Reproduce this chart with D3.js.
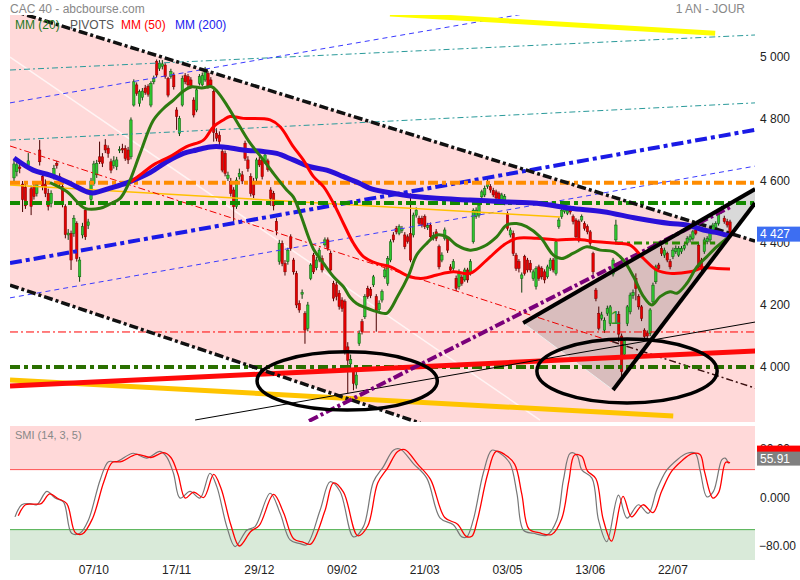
<!DOCTYPE html>
<meta charset="utf-8">
<style>
  body { margin: 0; background: #fff; }
  svg text { font-family: "Liberation Sans", Arial, sans-serif; }
</style>
<body>
<script src="https://d3js.org/d3.v7.min.js"></script>
<script>

// ---- data (bar index, price) ----
var tickBars = [28, 57, 86, 115, 144, 173, 202, 231];
var tickLabels = ["07/10", "17/11", "29/12", "09/02", "21/03", "03/05", "13/06", "22/07"];
var priceTicks = [4000, 4200, 4400, 4600, 4800, 5000];
var smiTicks = [80, 0, -80];
var smiLevels = [46, -53];
var lastPrice = 4427;
var lastSmi = 55.91;

var opens = [4610,4630,4645,4590,4580,4650,4575,4582,4560,4700, 4615,4590,4560,4528,4614,4657,4614,4582,4517,4426,
  4431,4431,4463,4291,4426,4506,4457,4540,4592,4620, 4678,4678,4716,4706,4662,4650,4646,4698,4705,4705,
  4700,4678,4845,4910,4850,4870,4900,4905,4845,4920, 4985,4963,4970,4974,4931,4937,4942,4829,4754,4845,
  4940,4937,4926,4861,4829,4915,4910,4926,4947,4926, 4888,4754,4748,4695,4689,4609,4598,4571,4517,4614,
  4620,4722,4668,4614,4598,4609,4668,4668,4662,4665, 4571,4560,4470,4340,4399,4334,4340,4420,4345,4302,
  4205,4235,4173,4125,4286,4361,4320,4345,4350,4394, 4410,4367,4270,4265,4238,4216,4211,4065,4010,3985,
  3942,4076,4146,4162,4254,4250,4265,4227,4185,4216, 4291,4270,4345,4426,4447,4431,4440,4426,4420,4431,
  4426,4490,4480,4480,4485,4450,4458,4415,4436,4388, 4345,4415,4415,4323,4318,4286,4259,4290,4281,4313,
  4302,4404,4485,4490,4549,4555,4582,4582,4570,4565, 4560,4540,4530,4495,4426,4431,4361,4340,4286,4356,
  4345,4335,4285,4259,4323,4318,4307,4291,4318,4345, 4302,4453,4485,4501,4496,4512,4485,4474,4469,4474,
  4463,4453,4436,4366,4248,4173,4157,4119,4173,4140, 4300,4410,4170,4100,4040,4140,4178,4230,4286,4227,
  4194,4119,4110,4108,4210,4275,4329,4383,4361,4367, 4340,4356,4372,4361,4372,4383,4400,4410,4415,4442,
  4393,4345,4372,4404,4410,4436,4442,4463,4501,4480, 4469,4468];
var highs = [4672,4668,4660,4600,4590,4690,4585,4598,4600,4732, 4630,4605,4575,4570,4652,4665,4625,4590,4525,4445,
  4440,4490,4470,4355,4465,4515,4478,4610,4665,4668, 4727,4690,4735,4715,4672,4680,4678,4712,4720,4715,
  4710,4805,4928,4918,4895,4900,4910,4912,4922,4940, 4992,4990,4990,4980,4936,4962,4950,4838,4810,4940,
  4948,4945,4935,4870,4900,4945,4950,4968,4955,4935, 4895,4770,4760,4705,4698,4630,4610,4580,4612,4640,
  4632,4730,4680,4625,4610,4675,4678,4678,4692,4672, 4580,4568,4480,4410,4408,4345,4385,4428,4352,4310,
  4215,4250,4180,4210,4335,4368,4355,4385,4360,4418, 4418,4375,4278,4275,4248,4225,4218,4080,4040,3995,
  3985,4118,4155,4235,4262,4258,4297,4235,4215,4250, 4320,4358,4412,4435,4455,4460,4455,4435,4428,4560,
  4498,4515,4488,4488,4492,4465,4466,4435,4445,4395, 4370,4450,4422,4332,4348,4295,4315,4298,4320,4320,
  4348,4512,4515,4530,4572,4585,4606,4590,4578,4572, 4566,4562,4558,4502,4450,4440,4368,4348,4305,4362,
  4352,4345,4315,4325,4330,4325,4315,4330,4352,4352, 4410,4482,4512,4520,4515,4520,4492,4480,4476,4492,
  4470,4460,4442,4372,4255,4195,4178,4160,4198,4200, 4352,4475,4180,4108,4092,4200,4240,4250,4302,4235,
  4200,4125,4118,4190,4272,4330,4336,4392,4385,4372, 4348,4385,4392,4390,4390,4400,4422,4428,4442,4450,
  4400,4352,4418,4422,4442,4465,4470,4502,4520,4488, 4478,4475];
var lows = [4598,4615,4625,4500,4510,4640,4490,4540,4550,4650, 4570,4548,4505,4515,4605,4640,4580,4515,4415,4410,
  4313,4420,4340,4275,4415,4410,4445,4530,4585,4610, 4655,4645,4690,4675,4625,4640,4635,4690,4690,4665,
  4655,4670,4840,4875,4840,4860,4878,4872,4838,4912, 4935,4955,4960,4930,4870,4930,4895,4765,4745,4840,
  4912,4903,4898,4805,4822,4908,4905,4920,4898,4903, 4727,4728,4715,4628,4615,4600,4550,4469,4510,4605,
  4590,4665,4630,4550,4545,4600,4645,4605,4655,4630, 4520,4505,4425,4330,4325,4295,4330,4375,4298,4190,
  4175,4220,4075,4115,4280,4300,4312,4338,4305,4388, 4375,4305,4212,4215,4185,4178,4040,3915,3990,3925,
  3930,4068,4105,4155,4220,4222,4258,4114,4175,4208, 4285,4262,4338,4402,4428,4425,4432,4380,4398,4338,
  4418,4482,4455,4450,4445,4442,4412,4408,4406,4315, 4338,4408,4368,4305,4310,4245,4250,4262,4275,4272,
  4295,4398,4478,4482,4540,4548,4575,4562,4548,4538, 4532,4532,4522,4440,4418,4358,4310,4305,4240,4295,
  4305,4305,4278,4250,4278,4282,4270,4285,4310,4305, 4295,4446,4478,4495,4490,4492,4460,4412,4402,4468,
  4440,4428,4390,4298,4212,4118,4150,4110,4165,4132, 4292,4402,4080,3955,4030,4132,4170,4220,4215,4185,
  4148,4090,4092,4100,4202,4268,4310,4358,4352,4338, 4315,4348,4365,4355,4365,4376,4392,4402,4408,4425,
  4315,4310,4365,4396,4402,4428,4435,4456,4495,4462, 4450,4420];
var closes = [4655,4652,4640,4540,4520,4665,4518,4550,4588,4662, 4582,4560,4518,4560,4640,4650,4592,4528,4427,4432,
  4345,4480,4350,4345,4453,4420,4468,4600,4655,4657, 4662,4657,4700,4689,4635,4665,4668,4702,4700,4673,
  4668,4797,4920,4883,4888,4890,4885,4880,4915,4931, 4942,4980,4978,4937,4877,4953,4904,4808,4802,4931,
  4920,4910,4904,4813,4894,4937,4940,4958,4904,4910, 4757,4738,4727,4635,4625,4619,4560,4517,4603,4625,
  4600,4673,4640,4560,4555,4668,4652,4614,4684,4637, 4544,4520,4440,4399,4334,4307,4377,4383,4307,4200,
  4184,4240,4119,4200,4329,4307,4345,4377,4313,4410, 4383,4313,4222,4227,4195,4189,4049,4022,4025,3947,
  3974,4109,4114,4227,4227,4230,4291,4180,4205,4243, 4313,4350,4404,4410,4436,4453,4446,4388,4405,4345,
  4490,4506,4463,4458,4453,4456,4420,4425,4415,4323, 4361,4442,4377,4313,4340,4254,4307,4270,4313,4281,
  4340,4506,4506,4522,4565,4576,4598,4571,4555,4545, 4540,4555,4550,4447,4442,4366,4318,4318,4297,4302,
  4313,4313,4307,4318,4286,4291,4281,4323,4345,4313, 4404,4474,4506,4512,4506,4500,4469,4420,4410,4485,
  4447,4436,4399,4307,4221,4125,4168,4151,4189,4194, 4345,4458,4106,3985,4085,4194,4232,4240,4254,4194,
  4157,4098,4100,4184,4264,4323,4318,4366,4377,4345, 4323,4377,4383,4383,4383,4392,4415,4420,4436,4431,
  4323,4318,4410,4415,4436,4458,4463,4495,4511,4469, 4458,4427];

// moving averages, read at sample bars
var mm20 = [[12.6,4595],[18.5,4566],[24.9,4512],[30.2,4512],[33.7,4526],[37.2,4544],[40.1,4590],[44.2,4689],
  [48.8,4795],[52.4,4834],[55.9,4861],[59.4,4890],[62.3,4904],[65.8,4900],[69.3,4904],[71.1,4890],[74.6,4845],
  [79.2,4775],[82.8,4722],[87.4,4668],[90.9,4625],[95.6,4571],[97.9,4549],[100.3,4496],[103.2,4420],[105,4380],
  [108.5,4334],[112,4291],[115.5,4259],[117.8,4225],[120.1,4205],[123,4192],[126,4182],[128.5,4175],[130.8,4174],
  [134.5,4228],[138.3,4295],[141.2,4362],[144.7,4399],[148.2,4426],[151.7,4420],[155.2,4393],[159.9,4377],
  [164.5,4388],[169.2,4420],[172.7,4458],[176.2,4463],[179.7,4453],[184.4,4420],[189.1,4361],[192,4350],
  [196.1,4367],[200.8,4388],[205.5,4377],[210.1,4372],[213.6,4345],[217.2,4291],[220.7,4227],[223.6,4200],
  [226.5,4227],[230,4243],[232.4,4238],[235.9,4270],[239.4,4323],[242.9,4356],[246.4,4388],[249.9,4415]];
var mm50 = [[41,4597],[45,4625],[48.9,4652],[54.7,4679],[60.5,4711],[66.4,4732],[69.9,4775],[73.4,4797],[75.7,4808],
  [80.4,4802],[89.8,4797],[93.3,4775],[97.9,4711],[101.4,4668],[105,4614],[108.5,4582],[112,4528],[115.5,4463],
  [119,4399],[122.5,4356],[127.2,4334],[131.8,4324],[138.8,4291],[143.5,4286],[148.2,4297],[154,4307],[159.9,4302],
  [165.7,4345],[171.6,4393],[176.2,4415],[183.2,4415],[190.3,4410],[197.3,4412],[204.3,4404],[211.3,4399],
  [216,4393],[220.7,4350],[225.3,4313],[230,4302],[237,4307],[241.7,4320],[246.4,4318],[251,4316]];
var mm200 = [[0,4674],[6.7,4635],[12.6,4619],[18.6,4597],[25.6,4565],[27.7,4561],[33.7,4577],[39.6,4594],[47.7,4627],
  [53.5,4662],[59.4,4689],[64,4700],[68.7,4710],[73.4,4710],[80.4,4700],[87.4,4695],[92.1,4689],[97.9,4668],
  [103.8,4646],[109.6,4635],[115.5,4614],[121.3,4592],[124.8,4576],[136.5,4555],[148.2,4544],[159.9,4539],
  [171.6,4533],[183.3,4528],[195,4512],[206.6,4501],[218.3,4480],[230,4463],[235.9,4458],[241.7,4442],
  [247.5,4431],[251,4422]];

// SMI (grey) and its signal (red)
var smi = [[0.35,-32],[2.7,-12],[5.6,-10],[8,-12],[11.5,10],[14.4,-1],[17.3,-7],[20.2,-59],[23.1,-59],[26.1,-37],
  [30.2,29],[33.1,59],[36,59],[41.8,73],[46.5,65],[51.2,76],[53.5,67],[55.9,40],[58.2,-1],[61.7,10],[65.2,-1],
  [68.7,40],[71.1,18],[74.6,-48],[77.5,-81],[81.6,-54],[84.5,-48],[89.8,7],[93.3,-26],[96.8,-70],[100.3,-76],
  [102.6,-78],[107.3,-21],[110.8,26],[114.3,10],[119,-65],[122.5,-48],[126,26],[129.5,51],[133,78],[135.3,80],
  [140,56],[144.7,32],[149.4,-34],[154,-45],[157,-65],[158.7,-65],[161,-37],[164.5,40],[167.5,78],[170.4,73],
  [173.9,56],[176.3,7],[178.6,-54],[182.1,-59],[186.8,-62],[190.3,-37],[192.6,29],[195,73],[197.3,70],[199.1,45],
  [202.6,32],[204.9,-37],[207.8,-73],[211.9,4],[214.9,-34],[218.9,-12],[222.4,-26],[225.3,12],[228.8,45],
  [232.4,62],[235.9,73],[238.8,73],[240.5,45],[242.9,1],[245.2,10],[248.1,62],[249.3,65],[250.5,56]];
var smiSignal = [[1.5,-30],[4,-12],[7,-11],[9.5,-10],[12.5,6],[15.5,-2],[18.5,-10],[21.5,-58],[24,-60],[27.5,-35],
  [31.5,26],[34.5,58],[37.5,59],[43,71],[48,66],[52.5,74],[55,66],[57.5,38],[60,-1],[63,9],[66.5,0],[70,38],
  [72.5,16],[76,-45],[79,-80],[83,-56],[86,-46],[91,5],[94.5,-25],[98,-68],[101.5,-74],[104,-77],[109,-22],
  [112,24],[115.5,9],[120.5,-63],[124,-47],[127.5,24],[131,49],[134.5,76],[137,79],[141.5,55],[146,30],
  [151,-33],[155.5,-44],[158.5,-64],[160.5,-64],[162.5,-36],[166,38],[169,76],[172,71],[175.5,55],[178,6],
  [180.5,-52],[184,-58],[188.5,-61],[192,-35],[194.5,27],[196.5,70],[199,68],[201,44],[204,31],[206.5,-35],
  [209.5,-72],[213.5,2],[216.5,-32],[220.5,-12],[224,-25],[227,10],[230.5,43],[234,60],[237.5,72],[240.5,71],
  [242,44],[245,-1],[247,8],[249.5,58],[251,57]];

// drawn lines, in (bar, price)
var channelTop = [[-1.4,5152],[259.8,4406]];
var channelBottom = [[-1.4,4264],[142.4,3819]];
var channelMid = [[-1.4,4713],[209.7,4082]];
var channelMidEnd = [[209.7,4082],[259.8,3932]];
var tealHigh = [[-1.4,4958],[259.8,5071]];
var tealLow = [[-1.4,4732],[259.8,4852]];
var blueUpper = [[-1.4,4852],[259.8,5268]];
var blueLower = [[-1.4,4223],[259.8,4648]];
var blueMid = [[-1.4,4335],[259.8,4765]];
var pivotOrange = [[-1.4,4594],[259.8,4594]];
var pivotGreen = [[-1.4,4529],[259.8,4529]];
var pivotRed = [[-1.4,4113],[259.8,4113]];
var pivotGreenLow = [[-1.4,4000],[259.8,4000]];
var pivotGreenShort = [[210.7,4400],[245.8,4400]];
var goldThin = [[-1.4,4587],[191.4,4484]];
var goldThick = [[-1.4,3958],[231.1,3842]];
var yellowTop = [[131.8,5139],[245.8,5077]];
var redThick = [[-1.4,3939],[259.8,4052]];
var blackThin = [[63.5,3829],[259.8,4145]];
var purpleLine = [[103.4,3826],[251.1,4516]];
var wedgeTop = [[178.5,4142],[259.8,4574]];
var wedgeBottom = [[210,3926],[259.8,4529]];
var paleLine = [[-1.4,5000],[184.4,3829]];
var wedgeArea = [[178.5,4142],[210,3926],[259.8,4529],[259.8,4574]];
var circles = [[116.8,3955,31.6,94],[214.9,3987,31.6,103]];

// ---- layout ----
var width = 800, height = 580;
var plot = {left: 10, right: 755, top: 15, bottom: 422};
var sub = {top: 426, bottom: 560};

var x = d3.scaleLinear().domain([0, 251]).range([14, 730]);
var y = d3.scaleLinear().domain([4000, 5000]).range([367, 57]);
var ys = d3.scaleLinear().domain([-80, 80]).range([546, 449]);
var fmt = d3.formatLocale({decimal: ".", thousands: " ", grouping: [3], currency: ["", ""]}).format(",d");

var svg = d3.select("body").append("svg")
    .attr("width", width)
    .attr("height", height);

var defs = svg.append("defs");
defs.append("clipPath").attr("id", "clipMain")
  .append("rect").attr("x", plot.left).attr("y", plot.top)
  .attr("width", plot.right - plot.left).attr("height", plot.bottom - plot.top);
defs.append("clipPath").attr("id", "clipSub")
  .append("rect").attr("x", plot.left).attr("y", sub.top)
  .attr("width", plot.right - plot.left).attr("height", sub.bottom - sub.top);

var line = d3.line().x(function(d) { return x(d[0]); }).y(function(d) { return y(d[1]); });
var main = svg.append("g").attr("clip-path", "url(#clipMain)");

// pink channel background
var cb = channelBottom, ct = channelTop;
var slopeB = (cb[1][1] - cb[0][1]) / (cb[1][0] - cb[0][0]);
var bandPts = [ct[0], ct[1], [ct[1][0], cb[0][1] + slopeB * (ct[1][0] - cb[0][0])], cb[0]];
main.append("path")
    .attr("d", line(bandPts) + "Z")
    .style("fill", "#ffd9d9");

// wedge shading
main.append("path")
    .attr("d", line(wedgeArea) + "Z")
    .style("fill", "rgba(120,120,120,0.28)");
main.append("path")
    .attr("d", line(wedgeArea.slice(0, 2)))
    .style("stroke", "#eee").style("stroke-width", 1).style("fill", "none");

function drawLine(pts, color, w, dash, opacity) {
  main.append("path")
      .attr("d", line(pts))
      .style("fill", "none")
      .style("stroke", color)
      .style("stroke-width", w)
      .style("stroke-dasharray", dash || null)
      .style("opacity", opacity || 1);
}

drawLine(paleLine, "#fff4f4", 1.5);

// candles
var cg = main.append("g");
closes.forEach(function(c, i) {
  var o = opens[i], up = c >= o;
  cg.append("line")
      .attr("x1", x(i)).attr("x2", x(i))
      .attr("y1", y(highs[i])).attr("y2", y(lows[i]))
      .style("stroke", up ? "#0b3d0b" : "#4a0000").style("stroke-width", 1);
  cg.append("rect")
      .attr("x", x(i) - 1.2).attr("width", 2.4)
      .attr("y", y(Math.max(o, c)))
      .attr("height", Math.max(1, Math.abs(y(o) - y(c))))
      .style("fill", up ? "#2fc42f" : "#e60000")
      .style("stroke", up ? "#0f5a0f" : "#7a0000").style("stroke-width", 0.5);
});

// trend lines and pivots
drawLine(tealHigh, "#2a9a9a", 1, "6,3,2,3");
drawLine(tealLow, "#2a9a9a", 1, "6,3,2,3");
drawLine(blueUpper, "#3b3bff", 1, "5,4");
drawLine(blueLower, "#3b3bff", 1, "5,4");
drawLine(goldThin, "#ffc000", 1.5);
drawLine(channelMid, "#ee0000", 1, "7,3,2,3");
drawLine(channelMidEnd, "#3a1010", 1.5, "7,3,2,3");
drawLine(pivotRed, "#ff0000", 1, "8,3,2,3");
drawLine(blueMid, "#1a1ae6", 4, "12,4,4,4");
drawLine(pivotOrange, "#ff8c00", 4, "10,4,4,4");
drawLine(pivotGreen, "#138a00", 4, "10,4,4,4");
drawLine(pivotGreenLow, "#2a7000", 4, "10,4,4,4");
drawLine(pivotGreenShort, "#2a8a00", 3, "8,4,3,4");
drawLine(goldThick, "#ffc400", 5);
drawLine(redThick, "#ff0a0a", 5);
drawLine(blackThin, "#000", 1);
drawLine(yellowTop, "#ffff00", 5);
drawLine(channelTop, "#111", 3.5, "9,3,3,3");
drawLine(channelBottom, "#111", 3.5, "9,3,3,3");
drawLine(purpleLine, "#7a007a", 4, "10,3,3,3");

// moving averages
var curve = d3.line().curve(d3.curveCatmullRom)
    .x(function(d) { return x(d[0]); }).y(function(d) { return y(d[1]); });
main.append("path").attr("d", curve(mm200))
    .style("fill", "none").style("stroke", "#2a10d8").style("stroke-width", 5);
main.append("path").attr("d", curve(mm50))
    .style("fill", "none").style("stroke", "#ff0000").style("stroke-width", 3);
main.append("path").attr("d", curve(mm20))
    .style("fill", "none").style("stroke", "#2e7a10").style("stroke-width", 3);

// wedge and circles
drawLine(wedgeTop, "#000", 4);
drawLine(wedgeBottom, "#000", 4);
circles.forEach(function(c) {
  var cx = x(c[0]), cy = y(c[1]);
  main.append("ellipse")
      .attr("cx", cx).attr("cy", cy)
      .attr("rx", x(c[0] + c[2]) - cx).attr("ry", y(c[1] - c[3]) - cy)
      .style("fill", "none").style("stroke", "#000").style("stroke-width", 3.5);
});
main.append("text")
    .attr("x", x(209)).attr("y", y(4140))
    .style("font-size", "19px").style("fill", "#2a9a2a").text("1");

// price axis
priceTicks.forEach(function(v) {
  svg.append("text")
      .attr("x", 760).attr("y", y(v)).attr("dy", "0.35em")
      .style("font-size", "12px").style("fill", "#222").text(fmt(v));
});
svg.append("rect")
    .attr("x", 757).attr("y", y(lastPrice) - 8).attr("width", 43).attr("height", 15)
    .style("fill", "#3d6ef2");
svg.append("text")
    .attr("x", 760).attr("y", y(lastPrice) - 0.5).attr("dy", "0.35em")
    .style("font-size", "12px").style("fill", "#fff").text(fmt(lastPrice));

// title and legend
svg.append("text").attr("x", 10).attr("y", 13)
    .style("font-size", "12px").style("fill", "#888").text("CAC 40 - abcbourse.com");
svg.append("text").attr("x", 745).attr("y", 13).attr("text-anchor", "end")
    .style("font-size", "12px").style("fill", "#888").text("1 AN - JOUR");
var legend = [["MM (20)", "#1f7a1f", 15], ["PIVOTS", "#555", 70], ["MM (50)", "#ff0000", 121], ["MM (200)", "#2020ee", 175]];
legend.forEach(function(l) {
  svg.append("text").attr("x", l[2]).attr("y", 29)
      .style("font-size", "12px").style("fill", l[1]).text(l[0]);
});

// ---- SMI panel ----
var sg = svg.append("g").attr("clip-path", "url(#clipSub)");
sg.append("rect").attr("x", plot.left).attr("y", sub.top)
    .attr("width", plot.right - plot.left).attr("height", ys(smiLevels[0]) - sub.top)
    .style("fill", "#ffd9d9");
sg.append("rect").attr("x", plot.left).attr("y", ys(smiLevels[1]))
    .attr("width", plot.right - plot.left).attr("height", sub.bottom - ys(smiLevels[1]))
    .style("fill", "#d9ead9");
sg.append("line").attr("x1", plot.left).attr("x2", plot.right)
    .attr("y1", ys(smiLevels[0])).attr("y2", ys(smiLevels[0]))
    .style("stroke", "#ff5050").style("stroke-width", 1);
sg.append("line").attr("x1", plot.left).attr("x2", plot.right)
    .attr("y1", ys(smiLevels[1])).attr("y2", ys(smiLevels[1]))
    .style("stroke", "#4caf4c").style("stroke-width", 1);

var smiLine = d3.line().curve(d3.curveCatmullRom)
    .x(function(d) { return x(d[0]); }).y(function(d) { return ys(d[1]); });
sg.append("path").attr("d", smiLine(smi))
    .style("fill", "none").style("stroke", "#777").style("stroke-width", 1.2);
sg.append("path").attr("d", smiLine(smiSignal))
    .style("fill", "none").style("stroke", "#ff0000").style("stroke-width", 1.3);

sg.append("text").attr("x", 15).attr("y", 439)
    .style("font-size", "11px").style("fill", "#888").text("SMI (14, 3, 5)");

smiTicks.forEach(function(v) {
  svg.append("text")
      .attr("x", v < 0 ? 759 : 760).attr("y", ys(v)).attr("dy", "0.35em")
      .style("font-size", "12px").style("fill", "#222").text(d3.format(v === 0 ? ".3f" : ".2f")(v));
});
svg.append("rect").attr("x", 757).attr("y", ys(lastSmi) - 18).attr("width", 43).attr("height", 13)
    .style("fill", "#ff0000");
svg.append("rect").attr("x", 757).attr("y", ys(lastSmi) - 12).attr("width", 43).attr("height", 14)
    .style("fill", "#808080");
svg.append("text").attr("x", 760).attr("y", ys(lastSmi) - 5).attr("dy", "0.35em")
    .style("font-size", "12px").style("fill", "#fff").text(d3.format(".2f")(lastSmi));

// date axis
tickBars.forEach(function(b, i) {
  svg.append("text").attr("x", x(b)).attr("y", 574).attr("text-anchor", "middle")
      .style("font-size", "12px").style("fill", "#222").text(tickLabels[i]);
});

</script>
</body>
</html>
